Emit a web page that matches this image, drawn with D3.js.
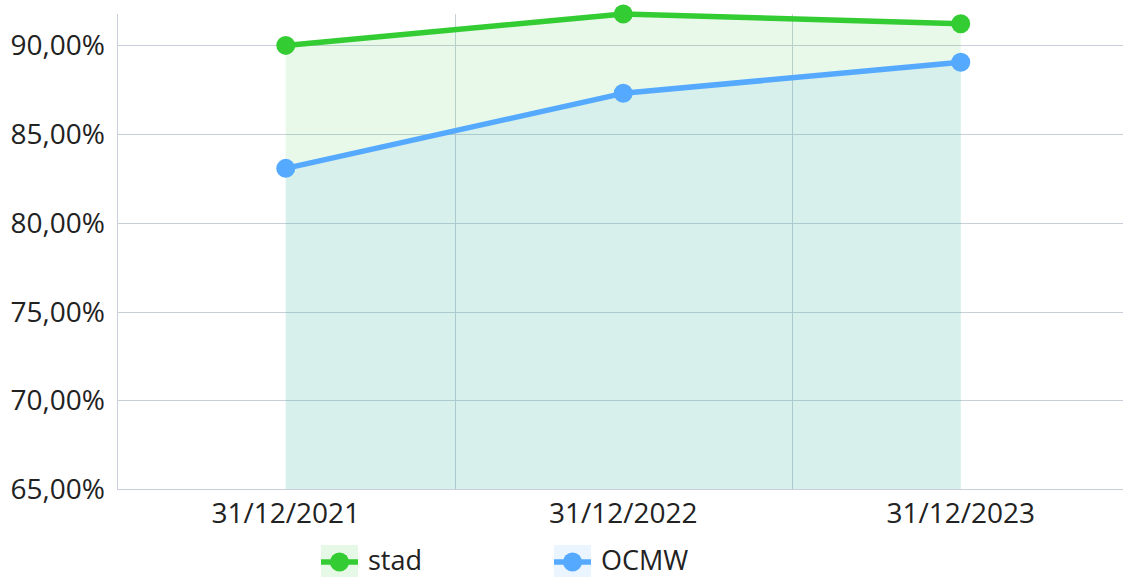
<!DOCTYPE html>
<html><head><meta charset="utf-8">
<script src="https://cdn.jsdelivr.net/npm/d3@7"></script>
<style>
html,body{margin:0;padding:0;background:#fff;}
svg text{font-family:"Open Sans",sans-serif;fill:#222;}
</style></head>
<body><svg id="c" width="1123" height="577"></svg>
<script>
const categories = ["31/12/2021", "31/12/2022", "31/12/2023"];
const stad = [90.0, 91.77, 91.22];
const ocmw = [83.07, 87.30, 89.05];
const yTicks = [65, 70, 75, 80, 85, 90];
const seriesNames = ["stad", "OCMW"];
const colors = ["#33cc33", "#55aaff"];

(function () {
const svg = d3.select("#c");
const pLeft = 117, pRight = 1129.5, pTop = 14, pBottom = 489;

const x = d3.scalePoint().domain(categories).range([pLeft, pRight]).padding(0.5);
const step = x.step();
const y = d3.scaleLinear().domain([65, d3.max(stad.concat(ocmw))]).range([pBottom, pTop]);
const fmt = v => d3.format(".2f")(v).replace(".", ",") + "%";

svg.append("g").selectAll("line").data(yTicks.filter(t => t > 65)).join("line")
  .attr("x1", pLeft).attr("x2", 1123).attr("y1", d => Math.round(y(d)) + 0.5).attr("y2", d => Math.round(y(d)) + 0.5)
  .attr("stroke", "#c8cfda").attr("stroke-width", 1);
svg.append("g").selectAll("line").data(categories.slice(1)).join("line")
  .attr("x1", d => Math.round(x(d) - step / 2) + 0.5).attr("x2", d => Math.round(x(d) - step / 2) + 0.5)
  .attr("y1", pTop).attr("y2", pBottom)
  .attr("stroke", "#c8cfda").attr("stroke-width", 1);

const series = [stad, ocmw];
const area = d3.area().x((d, i) => x(categories[i])).y0(y(65)).y1(d => y(d));
const fills = ["rgba(51,204,51,0.11)", "rgba(85,170,255,0.11)"];
series.forEach((s, k) => {
  svg.append("path").datum(s).attr("d", area).attr("fill", fills[k]);
});

svg.append("line").attr("x1", pLeft + 0.5).attr("x2", pLeft + 0.5).attr("y1", pTop).attr("y2", pBottom)
  .attr("stroke", "#c8cfda");
svg.append("line").attr("x1", pLeft).attr("x2", 1123).attr("y1", pBottom + 0.5).attr("y2", pBottom + 0.5)
  .attr("stroke", "#c8cfda");

const line = d3.line().x((d, i) => x(categories[i])).y(d => y(d));
series.forEach((s, k) => {
  svg.append("path").datum(s).attr("d", line).attr("fill", "none")
    .attr("stroke", colors[k]).attr("stroke-width", 5.5).attr("stroke-linejoin", "round");
  svg.append("g").selectAll("circle").data(s).join("circle")
    .attr("cx", (d, i) => x(categories[i])).attr("cy", d => y(d)).attr("r", 9.5)
    .attr("fill", colors[k]);
});

svg.append("g").selectAll("text").data(yTicks).join("text")
  .attr("x", 105).attr("y", d => y(d)).attr("dy", "0.36em")
  .attr("text-anchor", "end").attr("font-size", 28).text(fmt);

svg.append("g").selectAll("text").data(categories).join("text")
  .attr("x", d => x(d)).attr("y", 523).attr("text-anchor", "middle")
  .attr("font-size", 28).text(d => d);

const legX = [321, 554];
const legFill = ["rgba(51,204,51,0.12)", "rgba(85,170,255,0.12)"];
seriesNames.forEach((n, k) => {
  const g = svg.append("g").attr("transform", `translate(${legX[k]},545)`);
  g.append("rect").attr("width", 37).attr("height", 32).attr("fill", legFill[k]);
  g.append("line").attr("x1", 0).attr("x2", 37).attr("y1", 17).attr("y2", 17)
    .attr("stroke", colors[k]).attr("stroke-width", 5.5);
  g.append("circle").attr("cx", 18.5).attr("cy", 17).attr("r", 9.5).attr("fill", colors[k]);
  g.append("text").attr("x", 47).attr("y", 24.5).attr("font-size", 27).text(n);
});
})();
</script></body></html>
